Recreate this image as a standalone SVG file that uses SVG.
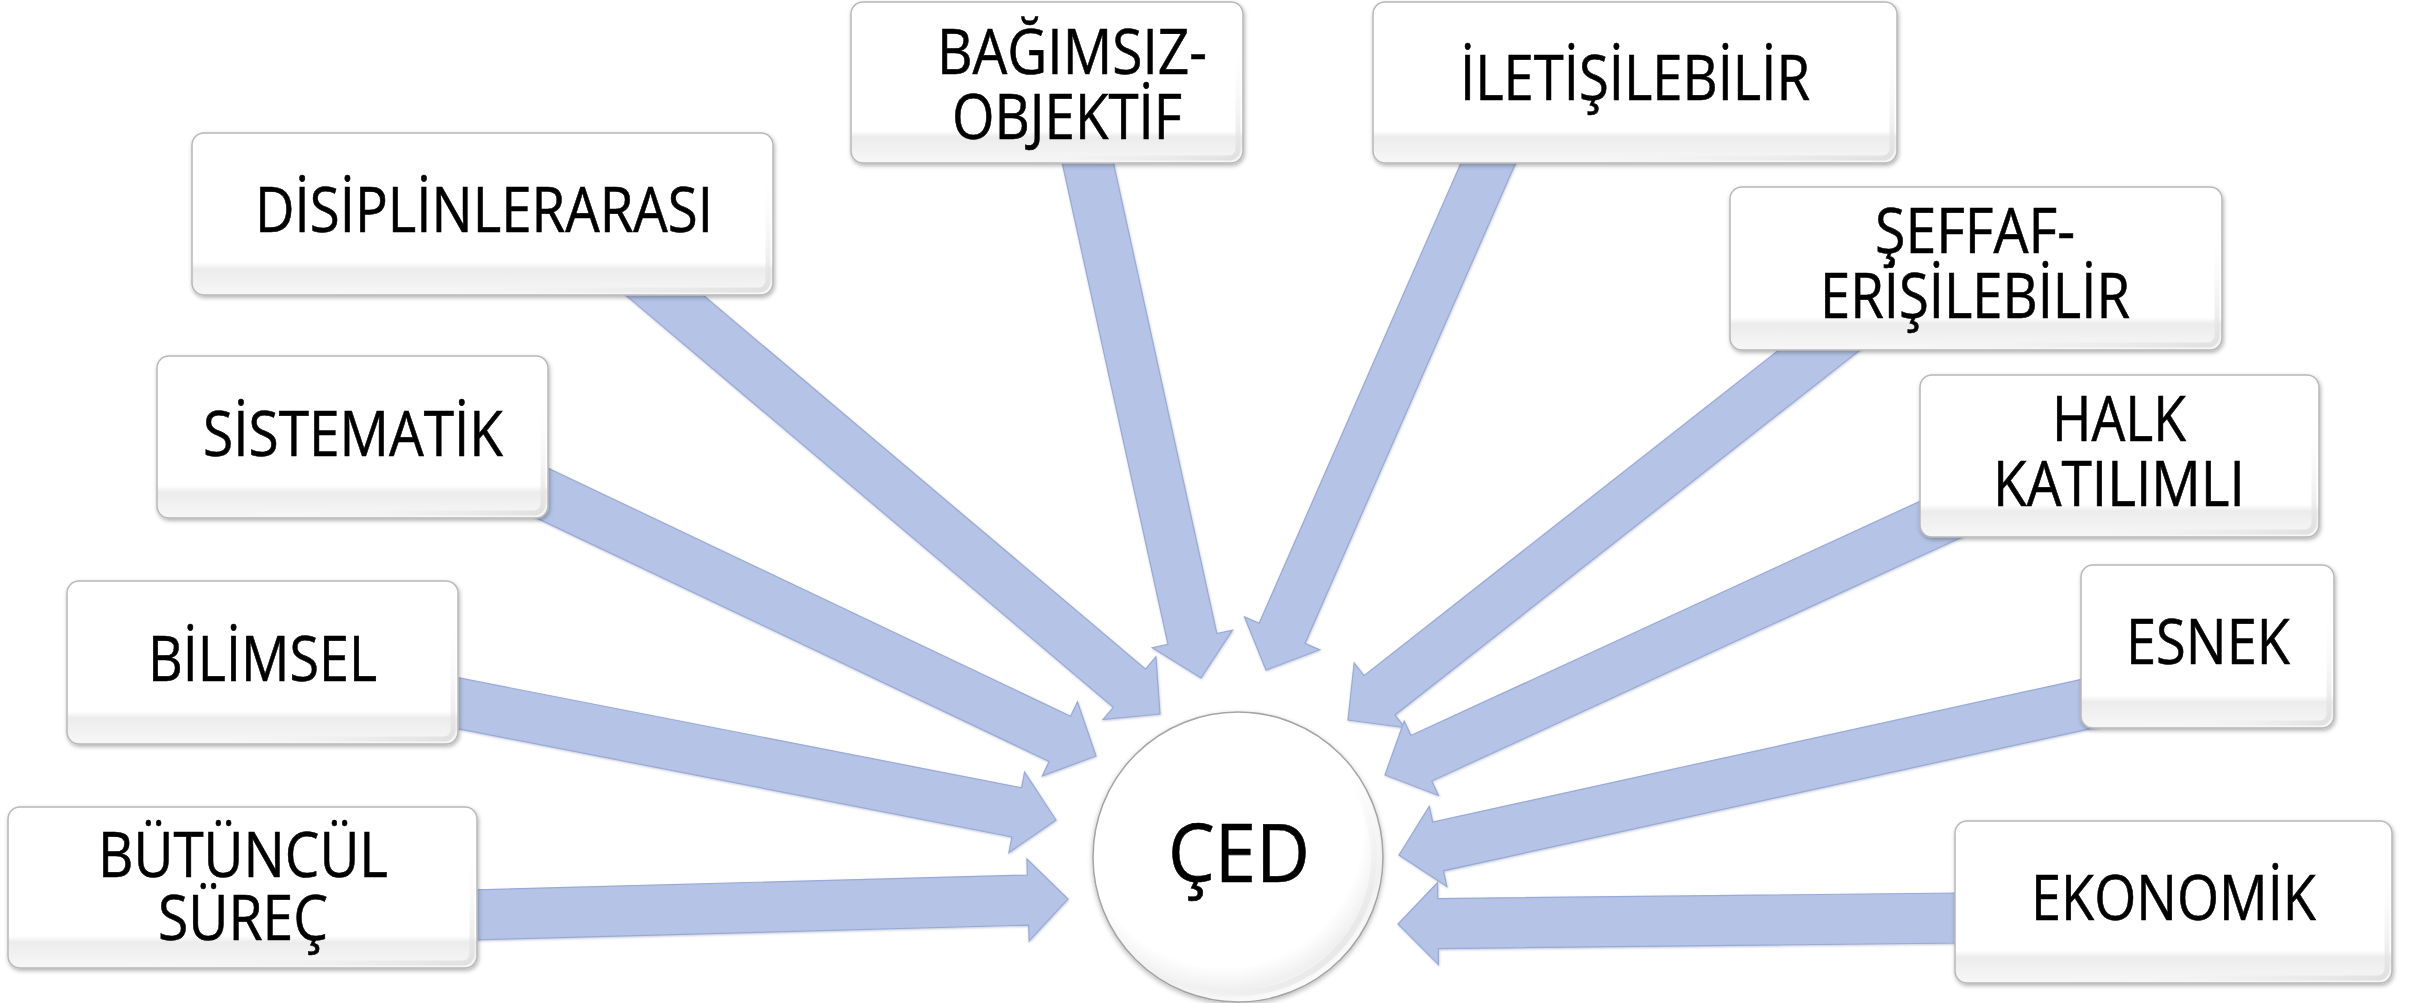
<svg xmlns="http://www.w3.org/2000/svg" width="2431" height="1003" viewBox="0 0 2431 1003">
<style>
  .arrow { fill: #B4C3E6; stroke: #9AAAD6; stroke-width: 1.2; stroke-linejoin: miter; filter: url(#ash); }
  .box { fill: url(#boxg); stroke: #B8B8B8; stroke-width: 1.5; filter: url(#bsh); }
  .bev { fill: none; stroke: url(#bevg); stroke-width: 5; }
  .lbl { font-family: "Open Sans", "Liberation Sans", sans-serif; font-size: 63px; fill: #000; stroke: #000; stroke-width: 0.6; }
  .big { font-family: "Open Sans", "Liberation Sans", sans-serif; font-size: 80px; fill: #000; stroke: #000; stroke-width: 0.6; }
</style>
<defs>
  <filter id="bsh" x="-5%" y="-10%" width="110%" height="125%">
    <feDropShadow dx="1" dy="2" stdDeviation="2" flood-color="#000" flood-opacity="0.3"/>
  </filter>
  <filter id="ash" x="-5%" y="-5%" width="110%" height="110%">
    <feDropShadow dx="0.5" dy="1" stdDeviation="1" flood-color="#5A6A9A" flood-opacity="0.35"/>
  </filter>
  <filter id="csh" x="-10%" y="-10%" width="120%" height="120%">
    <feDropShadow dx="0" dy="2" stdDeviation="2.5" flood-color="#000" flood-opacity="0.28"/>
  </filter>
  <linearGradient id="boxg" x1="0" y1="0" x2="0" y2="1">
    <stop offset="0" stop-color="#FFFFFF"/>
    <stop offset="0.80" stop-color="#FFFFFF"/>
    <stop offset="0.84" stop-color="#ECECEC"/>
    <stop offset="1" stop-color="#F7F7F7"/>
  </linearGradient>
  <linearGradient id="bevg" x1="0" y1="0" x2="1" y2="1">
    <stop offset="0" stop-color="#FFFFFF" stop-opacity="0"/>
    <stop offset="0.6" stop-color="#FFFFFF" stop-opacity="0"/>
    <stop offset="1" stop-color="#DEDEDE" stop-opacity="0.9"/>
  </linearGradient>
  <radialGradient id="cg" cx="0.45" cy="0.4" r="0.6">
    <stop offset="0" stop-color="#FFFFFF"/>
    <stop offset="0.8" stop-color="#FFFFFF"/>
    <stop offset="0.93" stop-color="#F0F0F0"/>
    <stop offset="1" stop-color="#FAFAFA"/>
  </radialGradient>
  <linearGradient id="cring" x1="0" y1="0" x2="1" y2="1">
    <stop offset="0" stop-color="#FFFFFF" stop-opacity="0"/>
    <stop offset="0.5" stop-color="#FFFFFF" stop-opacity="0"/>
    <stop offset="1" stop-color="#D8D8D8"/>
  </linearGradient>
</defs>
<rect x="0" y="0" width="2431" height="1003" fill="#FFFFFF"/>

<g id="connectors">
  <polygon class="arrow" points="470.67,939.99 1028.68,925.06 1029.11,941.06 1068,899 1026.91,859.08 1027.34,875.08 469.33,890.01"/>
  <polygon class="arrow" points="1961.73,893.0 1437.73,898.57 1437.56,882.57 1398,924 1438.44,964.57 1438.27,948.57 1962.27,943.0"/>
  <polygon class="arrow" points="447.21,726.54 1011.95,836.87 1008.88,852.57 1056,820 1024.60,772.09 1021.53,787.79 456.79,677.46"/>
  <polygon class="arrow" points="515.73,508.15 1049.15,761.42 1042.28,775.88 1096,756 1077.46,701.80 1070.59,716.26 537.17,462.99"/>
  <polygon class="arrow" points="613.86,285.09 1113.31,707.27 1102.99,719.50 1160,714 1155.91,656.86 1145.59,669.09 646.14,246.91"/>
  <polygon class="arrow" points="1060.58,155.36 1168.00,644.29 1152.37,647.73 1201,678 1232.47,630.13 1216.84,633.57 1109.42,144.64"/>
  <polygon class="arrow" points="1471.10,139.96 1259.16,623.33 1244.51,616.91 1266,670 1319.61,649.83 1304.96,643.41 1516.90,160.04"/>
  <polygon class="arrow" points="1834.56,306.33 1364.03,675.63 1354.16,663.05 1348,720 1404.78,727.55 1394.91,714.97 1865.44,345.67"/>
  <polygon class="arrow" points="1942.25,491.04 1410.89,735.57 1404.20,721.03 1385,775 1438.48,795.53 1431.79,780.99 1963.15,536.46"/>
  <polygon class="arrow" points="2089.63,677.58 1432.70,821.99 1429.27,806.37 1399,855 1446.87,886.45 1443.44,870.83 2100.37,726.42"/>
</g>

<g id="node-ced">
  <circle cx="1238" cy="857" r="145" fill="url(#cg)" stroke="#A4A4A4" stroke-width="1.5" filter="url(#csh)"/>
  <circle cx="1238" cy="857" r="136" fill="none" stroke="url(#cring)" stroke-width="6"/>
  <text class="big" x="1168" y="882" textLength="142" lengthAdjust="spacingAndGlyphs">ÇED</text>
</g>

<g id="node-bagimsiz">
  <rect class="box" x="851" y="2" width="392" height="161" rx="12"/>
  <rect class="bev" x="856" y="7" width="382" height="151" rx="9"/>
  <text class="lbl" x="937" y="74" textLength="270" lengthAdjust="spacingAndGlyphs">BAĞIMSIZ-</text>
  <text class="lbl" x="952" y="139" textLength="230" lengthAdjust="spacingAndGlyphs">OBJEKTİF</text>
</g>

<g id="node-iletisilebilir">
  <rect class="box" x="1373" y="2" width="524" height="161" rx="12"/>
  <rect class="bev" x="1378" y="7" width="514" height="151" rx="9"/>
  <text class="lbl" x="1460" y="100" textLength="350" lengthAdjust="spacingAndGlyphs">İLETİŞİLEBİLİR</text>
</g>

<g id="node-disiplinlerarasi">
  <rect class="box" x="192" y="133" width="581" height="162" rx="12"/>
  <rect class="bev" x="197" y="138" width="571" height="152" rx="9"/>
  <text class="lbl" x="255" y="232" textLength="458" lengthAdjust="spacingAndGlyphs">DİSİPLİNLERARASI</text>
</g>

<g id="node-sistematik">
  <rect class="box" x="157" y="356" width="391" height="162" rx="12"/>
  <rect class="bev" x="162" y="361" width="381" height="152" rx="9"/>
  <text class="lbl" x="203" y="456" textLength="300" lengthAdjust="spacingAndGlyphs">SİSTEMATİK</text>
</g>

<g id="node-bilimsel">
  <rect class="box" x="67" y="581" width="391" height="163" rx="12"/>
  <rect class="bev" x="72" y="586" width="381" height="153" rx="9"/>
  <text class="lbl" x="148" y="681" textLength="229" lengthAdjust="spacingAndGlyphs">BİLİMSEL</text>
</g>

<g id="node-butuncul">
  <rect class="box" x="8" y="807" width="469" height="161" rx="12"/>
  <rect class="bev" x="13" y="812" width="459" height="151" rx="9"/>
  <text class="lbl" x="98" y="877" textLength="290" lengthAdjust="spacingAndGlyphs">BÜTÜNCÜL</text>
  <text class="lbl" x="158" y="940" textLength="170" lengthAdjust="spacingAndGlyphs">SÜREÇ</text>
</g>

<g id="node-seffaf">
  <rect class="box" x="1730" y="187" width="492" height="163" rx="12"/>
  <rect class="bev" x="1735" y="192" width="482" height="153" rx="9"/>
  <text class="lbl" x="1875" y="253" textLength="200" lengthAdjust="spacingAndGlyphs">ŞEFFAF-</text>
  <text class="lbl" x="1820" y="318" textLength="310" lengthAdjust="spacingAndGlyphs">ERİŞİLEBİLİR</text>
</g>

<g id="node-halk">
  <rect class="box" x="1920" y="375" width="399" height="162" rx="12"/>
  <rect class="bev" x="1925" y="380" width="389" height="152" rx="9"/>
  <text class="lbl" x="2052" y="441" textLength="134" lengthAdjust="spacingAndGlyphs">HALK</text>
  <text class="lbl" x="1993" y="506" textLength="252" lengthAdjust="spacingAndGlyphs">KATILIMLI</text>
</g>

<g id="node-esnek">
  <rect class="box" x="2081" y="565" width="253" height="163" rx="12"/>
  <rect class="bev" x="2086" y="570" width="243" height="153" rx="9"/>
  <text class="lbl" x="2126" y="664" textLength="164" lengthAdjust="spacingAndGlyphs">ESNEK</text>
</g>

<g id="node-ekonomik">
  <rect class="box" x="1955" y="821" width="437" height="162" rx="12"/>
  <rect class="bev" x="1960" y="826" width="427" height="152" rx="9"/>
  <text class="lbl" x="2031" y="920" textLength="285" lengthAdjust="spacingAndGlyphs">EKONOMİK</text>
</g>
</svg>
